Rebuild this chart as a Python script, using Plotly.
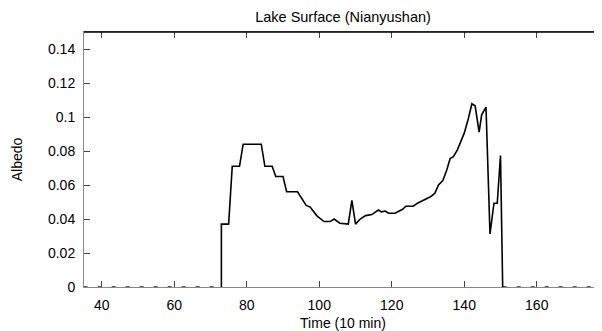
import plotly.graph_objects as go

# Albedo series (time in 10-min steps)
time = [73, 73, 75, 76, 78, 79, 84, 85, 87, 88, 90, 91, 94, 96.4, 97.5, 99.3, 100.4,
        101.3, 103, 104.1, 105.7, 108, 109, 110, 111.3, 112.8, 114.5, 115.4, 116.3,
        117.2, 118.2, 119.1, 120.9, 121.8, 123, 123.9, 125.9, 127.1, 128.3, 129.7,
        130.8, 131.9, 132.9, 134.1, 135.2, 136.1, 137, 138.1, 139.1, 140, 141.1,
        142.1, 143, 144.1, 144.8, 146, 147.1, 148.2, 149.1, 150, 150.6]
albedo = [0, 0.037, 0.037, 0.071, 0.071, 0.084, 0.084, 0.071, 0.071, 0.065, 0.065,
          0.056, 0.056, 0.048, 0.047, 0.042, 0.040, 0.0385, 0.0385, 0.040, 0.0375,
          0.037, 0.051, 0.037, 0.040, 0.042, 0.0426, 0.044, 0.0453, 0.0442, 0.0447,
          0.0434, 0.0434, 0.0444, 0.0457, 0.0475, 0.0475, 0.0493, 0.0506, 0.0518,
          0.0532, 0.0552, 0.060, 0.0626, 0.069, 0.0756, 0.0767, 0.0807, 0.0856,
          0.0905, 0.0988, 0.1078, 0.1066, 0.0911, 0.1013, 0.1058, 0.0312, 0.0493,
          0.0493, 0.0773, 0]

# zero-valued stretches before and after the measured period
zero_time = [35, 73, None, 150.6, 178]
zero_vals = [0, 0, None, 0, 0]

y_ticks = [0, 0.02, 0.04, 0.06, 0.08, 0.1, 0.12, 0.14]
y_labels = ["0", "0.02", "0.04", "0.06", "0.08", "0.1", "0.12", "0.14"]
x_ticks = [40, 60, 80, 100, 120, 140, 160]

fig = go.Figure()
fig.add_trace(go.Scatter(x=zero_time, y=zero_vals, mode="lines",
                         line=dict(color="#222", width=1.5, dash="4px,10px"),
                         hoverinfo="skip", showlegend=False, cliponaxis=False))
fig.add_trace(go.Scatter(x=time, y=albedo, mode="lines",
                         line=dict(color="black", width=1.6),
                         showlegend=False, cliponaxis=False))

# dark top frame edge
fig.add_shape(type="line", xref="paper", yref="paper", x0=0, x1=1, y0=1, y1=1,
              line=dict(color="black", width=1.3))

font = "Liberation Sans, Arial, sans-serif"
fig.update_layout(
    width=594, height=323,
    margin=dict(l=76, r=0, t=24, b=44, autoexpand=False),
    paper_bgcolor="white", plot_bgcolor="white",
    font=dict(family=font, size=14, color="black"),
    title=dict(text="Lake Surface (Nianyushan)", x=0.564, xanchor="center",
               y=0.972, yanchor="middle", font=dict(size=14.5)),
    xaxis=dict(range=[35.1, 178], tickvals=x_ticks, ticks="inside", ticklen=6,
               tickcolor="#444", showline=True, linecolor="#888", linewidth=1,
               mirror="ticks", showgrid=False, zeroline=False, automargin=False,
               ticklabelstandoff=5,
               title=dict(text="Time (10 min)", standoff=6, font=dict(size=14)),
               tickfont=dict(size=14)),
    yaxis=dict(range=[0, 0.15], tickvals=y_ticks, ticktext=y_labels,
               ticks="inside", ticklen=6, tickcolor="#444", showline=True,
               linecolor="#888", linewidth=1, mirror="ticks", showgrid=False,
               zeroline=False, automargin=False, ticklabelstandoff=5,
               title=dict(text="Albedo", standoff=22, font=dict(size=14)),
               tickfont=dict(size=14)),
)

fig.write_html("out.html")
